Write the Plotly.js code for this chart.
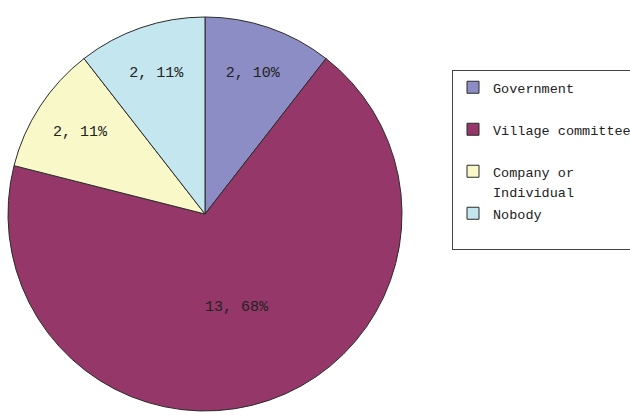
<!DOCTYPE html>
<html><head><meta charset="utf-8">
<script src="https://cdn.plot.ly/plotly-3.0.1.min.js"></script>
<style>html,body{margin:0;padding:0;background:#fff}#chart{width:630px;height:415px}</style>
</head><body><div id="chart"></div>
<script>
var categories = ["Government", "Village committee", "Company or<br>Individual", "Nobody"];
var counts = [2, 13, 2, 2];
var percentLabels = ["10%", "68%", "11%", "11%"];
var sliceColors = ["#8C8DC4", "#953768", "#F8F8C9", "#C4E6EF"];

var texts = counts.map(function(c, i){ return c + ", " + percentLabels[i]; });
// legend entries: smaller glyphs inside a 15px legend line height, Excel-like row spacing
var legendNames = categories.map(function(c){
  var lines = c.split("<br>");
  if (lines.length < 2) lines.push(" ");
  return lines.map(function(l){ return "<span style='font-size:13.5px'>" + l + "</span>"; }).join("<br>");
});

var W = 630, H = 415;
var trace = {
  type: "pie",
  labels: legendNames,
  values: counts,
  text: texts,
  textinfo: "text",
  textposition: "inside",
  insidetextorientation: "horizontal",
  sort: false,
  direction: "clockwise",
  rotation: 0,
  marker: {colors: sliceColors, line: {color: "#2b2b2b", width: 1}},
  textfont: {family: "Liberation Mono, monospace", size: 15, color: "#222"},
  hoverinfo: "none",
  domain: {x: [8/W, 402/W], y: [4/H, 398/H]}
};

var layout = {
  width: W, height: H,
  margin: {l: 0, r: 0, t: 0, b: 0, autoexpand: false},
  paper_bgcolor: "#fff",
  showlegend: true,
  legend: {
    x: 452/W, y: 1 - 70/H, xanchor: "left", yanchor: "top",
    bgcolor: "#fff", bordercolor: "#444", borderwidth: 1,
    font: {family: "Liberation Mono, monospace", size: 15, color: "#222"},
    valign: "top",
    traceorder: "normal"
  }
};

Plotly.newPlot("chart", [trace], layout, {staticPlot: true});
</script></body></html>
